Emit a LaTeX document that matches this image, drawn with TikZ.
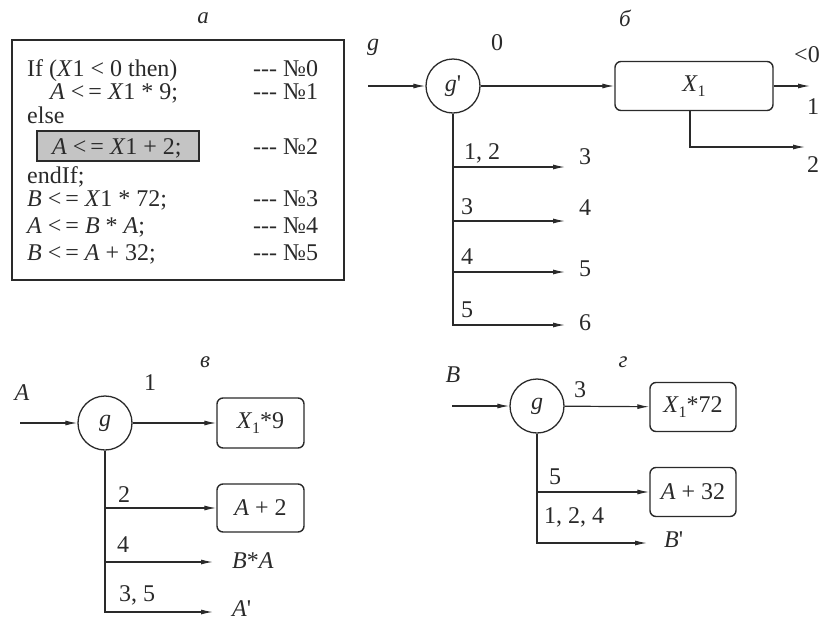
\documentclass[tikz,border=0pt]{standalone}
\usepackage{fontspec}
\setmainfont{Liberation Serif}
\usetikzlibrary{arrows.meta}
\definecolor{ink}{HTML}{2A2A2A}
\definecolor{shade}{HTML}{C4C4C4}
\newcommand{\subone}{\raisebox{-0.4ex}{\fontsize{16}{16}\selectfont 1}}
\newcommand{\prm}{\textquotesingle}
\begin{document}
\begin{tikzpicture}[x=1pt,y=-1pt,
  txt/.style={font=\fontsize{24}{28}\selectfont, text=ink, inner sep=0pt},
  code/.style={txt, anchor=base west},
  lab/.style={font=\fontsize{23}{26}\selectfont\itshape, text=ink, inner sep=0pt},
  circ/.style={circle, draw=ink, line width=1.3pt, minimum size=54pt, inner sep=0pt, txt},
  rbox/.style={draw=ink, rounded corners=6pt, line width=1.4pt, inner sep=0pt, txt},
  arr/.style={-{Latex[length=12pt,width=5pt]}, line width=1.2pt, draw=ink},
  ln/.style={line width=1.2pt, draw=ink}]
\useasboundingbox (0,0) rectangle (823,622);

% ---------- panel a ----------
\node[lab] (la) at (203,18) {а};
\node[draw=ink, line width=1.3pt, minimum width=332pt, minimum height=240pt, inner sep=0pt] (frame) at (178,160) {};
\node[fill=shade, draw=ink, line width=1.3pt, minimum width=162pt, minimum height=30pt, inner sep=0pt] (hl) at (118,146) {};
\node[code] (c0) at (27,76) {If (\textit{X}1 < 0 then)};
\node[code] (c1) at (50,99) {\textit{A} <\,= \textit{X}1 * 9;};
\node[code] (c2) at (27,123) {else};
\node[code] (c3) at (52,154) {\textit{A} <\,= \textit{X}1 + 2;};
\node[code] (c4) at (27,183) {endIf;};
\node[code] (c5) at (27,206) {\textit{B} <\,= \textit{X}1 * 72;};
\node[code] (c6) at (27,233) {\textit{A} <\,= \textit{B} * \textit{A};};
\node[code] (c7) at (27,260) {\textit{B} <\,= \textit{A} + 32;};
\node[code] (n0) at (253,76) {-{}-{}- №0};
\node[code] (n1) at (253,99) {-{}-{}- №1};
\node[code] (n2) at (253,154) {-{}-{}- №2};
\node[code] (n3) at (253,206) {-{}-{}- №3};
\node[code] (n4) at (253,233) {-{}-{}- №4};
\node[code] (n5) at (253,260) {-{}-{}- №5};

% ---------- panel b ----------
\node[lab] (lb) at (625,18) {б};
\node[circ] (gp) at (453,86) {\textit{g}\prm};
\node[rbox, minimum width=158pt, minimum height=49pt] (bx) at (694,86) {\textit{X}\subone};
\coordinate (gin) at (368,86);
\coordinate (bout) at (810,86);
\coordinate (b2) at (805,147);
\node[txt] (lg) at (373,47) {\textit{g}};
\node[txt] (l0) at (497,43) {0};
\node[txt] (lneg) at (807,55) {<0};
\node[txt] (lo1) at (813,107) {1};
\node[txt] (lo2) at (813,165) {2};
\draw[arr] (gin) -- (gp);
\draw[arr] (gp) -- (bx);
\draw[arr] (bx) -- (bout);
\draw[arr] (bx.south -| 690,0) |- (b2);
\coordinate (e1) at (565,167);
\coordinate (e2) at (565,221);
\coordinate (e3) at (565,272);
\coordinate (e4) at (565,325);
\draw[arr] (gp.south) |- (e4);
\draw[arr] (gp.south |- e1) -- (e1);
\draw[arr] (gp.south |- e2) -- (e2);
\draw[arr] (gp.south |- e3) -- (e3);
\node[txt] (t1) at (482,153) {1, 2};
\node[txt] (t2) at (467,207) {3};
\node[txt] (t3) at (467,257) {4};
\node[txt] (t4) at (467,310) {5};
\node[txt] (d1) at (585,157) {3};
\node[txt] (d2) at (585,208) {4};
\node[txt] (d3) at (585,269) {5};
\node[txt] (d4) at (585,323) {6};

% ---------- panel v ----------
\node[lab] (lv) at (205,362) {в};
\node[circ] (gv) at (105,423) {\textit{g}};
\node[rbox, minimum width=87pt, minimum height=50pt] (bv1) at (260.5,423) {\textit{X}\subone*9};
\node[rbox, minimum width=87pt, minimum height=48pt] (bv2) at (260.5,508) {\textit{A} + 2};
\coordinate (vin) at (20,423);
\coordinate (ve3) at (213,562);
\coordinate (ve4) at (213,612);
\draw[arr] (vin) -- (gv);
\draw[arr] (gv) -- (bv1);
\draw[arr] (gv.south) |- (ve4);
\draw[arr] (gv.south |- bv2) -- (bv2);
\draw[arr] (gv.south |- ve3) -- (ve3);
\node[txt] (lA) at (22,393) {\textit{A}};
\node[txt] (lv1) at (150,383) {1};
\node[txt] (lv2) at (124,495) {2};
\node[txt] (lv3) at (123,545) {4};
\node[txt] (lv4) at (137,595) {3, 5};
\node[txt, anchor=west] (lBA) at (232,561) {\textit{B}*\textit{A}};
\node[txt, anchor=west] (lAp) at (232,609) {\textit{A}\prm};

% ---------- panel g ----------
\node[lab] (lgg) at (623,362) {г};
\node[circ] (gg) at (537,406) {\textit{g}};
\node[rbox, minimum width=86pt, minimum height=49pt] (bg1) at (693,407) {\textit{X}\subone*72};
\node[rbox, minimum width=86pt, minimum height=49pt] (bg2) at (693,492) {\textit{A} + 32};
\coordinate (gin2) at (452,406);
\coordinate (ge3) at (647,543);
\draw[arr] (gin2) -- (gg);
\draw[arr] (gg) -- (bg1);
\draw[arr] (gg.south) |- (ge3);
\draw[arr] (gg.south |- bg2) -- (bg2);
\node[txt] (lB) at (453,375) {\textit{B}};
\node[txt] (lg3) at (580,390) {3};
\node[txt] (lg5) at (555,477) {5};
\node[txt] (lg124) at (574,517) {1, 2, 4};
\node[txt, anchor=west] (lBp) at (664,540) {\textit{B}\prm};
\end{tikzpicture}
\end{document}
